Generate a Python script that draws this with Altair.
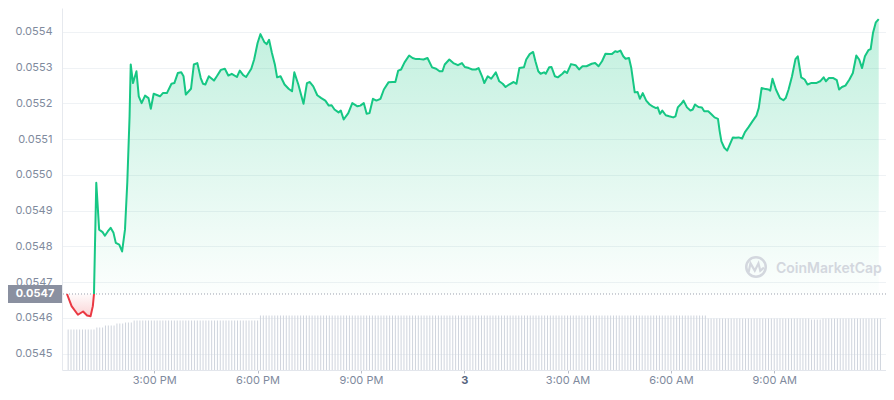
import altair as alt
import pandas as pd
import numpy as np

# time in minutes after 12:00 PM (day 2); price in USD
minutes = [
    28, 36, 47, 56, 63, 69, 73, 75, 79, 84,
    90, 94, 99, 104, 109, 113, 119, 124, 129, 133,
    137, 139, 143, 149, 153, 158, 164, 170, 174, 179,
    190, 195, 202, 210, 215, 221, 227, 231, 235, 244,
    249, 255, 261, 265, 269, 275, 284, 289, 296, 303,
    309, 315, 324, 329, 335, 340, 349, 354, 360, 365,
    372, 376, 380, 385, 390, 394, 400, 407, 414, 420,
    424, 431, 440, 446, 451, 457, 464, 471, 478, 484,
    489, 494, 501, 505, 510, 518, 525, 534, 539, 545,
    550, 555, 561, 567, 574, 580, 588, 595, 600, 605,
    610, 616, 624, 630, 636, 643, 649, 656, 664, 671,
    677, 682, 686, 694, 701, 709, 716, 721, 728, 734,
    740, 745, 751, 755, 761, 767, 775, 781, 787, 792,
    798, 806, 811, 816, 824, 828, 834, 840, 844, 849,
    853, 859, 862, 868, 872, 878, 883, 891, 895, 899,
    906, 914, 920, 926, 933, 942, 948, 954, 960, 966,
    973, 977, 983, 987, 992, 997, 1001, 1007, 1011, 1017,
    1022, 1026, 1031, 1037, 1043, 1048, 1054, 1057, 1061, 1065,
    1071, 1077, 1084, 1088, 1092, 1098, 1102, 1108, 1114, 1118,
    1122, 1128, 1134, 1138, 1145, 1151, 1156, 1162, 1165, 1168,
    1173, 1178, 1182, 1188, 1193, 1198, 1204, 1209, 1215, 1222,
    1229, 1233, 1238, 1243, 1250, 1253, 1257, 1263, 1270, 1276,
    1280, 1285, 1291, 1297, 1301, 1307, 1313, 1318, 1324, 1333,
    1340, 1346, 1350, 1355, 1363, 1369, 1373, 1378, 1384, 1391,
    1397, 1403, 1408, 1413, 1418, 1424, 1428, 1432, 1437, 1442,
]

prices = [
    0.054667, 0.054633, 0.054609, 0.054618, 0.054607, 0.054605, 0.054633, 0.054667, 0.054978, 0.054847,
    0.054840, 0.054830, 0.054842, 0.054852, 0.054838, 0.054810, 0.054805, 0.054786, 0.054847, 0.054978,
    0.055164, 0.055309, 0.055257, 0.055290, 0.055220, 0.055201, 0.055222, 0.055215, 0.055185, 0.055227,
    0.055220, 0.055229, 0.055229, 0.055255, 0.055257, 0.055285, 0.055287, 0.055276, 0.055225, 0.055241,
    0.055309, 0.055313, 0.055271, 0.055255, 0.055253, 0.055276, 0.055264, 0.055276, 0.055294, 0.055297,
    0.055278, 0.055283, 0.055274, 0.055292, 0.055279, 0.055274, 0.055297, 0.055323, 0.055369, 0.055394,
    0.055371, 0.055366, 0.055378, 0.055341, 0.055310, 0.055273, 0.055276, 0.055253, 0.055241, 0.055234,
    0.055287, 0.055253, 0.055199, 0.055257, 0.055260, 0.055248, 0.055223, 0.055215, 0.055208, 0.055194,
    0.055195, 0.055183, 0.055175, 0.055180, 0.055155, 0.055173, 0.055201, 0.055192, 0.055194, 0.055201,
    0.055171, 0.055173, 0.055213, 0.055208, 0.055213, 0.055239, 0.055259, 0.055260, 0.055260, 0.055292,
    0.055295, 0.055315, 0.055334, 0.055327, 0.055324, 0.055324, 0.055323, 0.055327, 0.055301, 0.055297,
    0.055290, 0.055290, 0.055309, 0.055323, 0.055313, 0.055307, 0.055313, 0.055302, 0.055299, 0.055295,
    0.055295, 0.055299, 0.055276, 0.055257, 0.055276, 0.055269, 0.055287, 0.055262, 0.055255, 0.055246,
    0.055253, 0.055260, 0.055255, 0.055299, 0.055301, 0.055323, 0.055338, 0.055344, 0.055318, 0.055290,
    0.055283, 0.055287, 0.055283, 0.055301, 0.055302, 0.055276, 0.055273, 0.055283, 0.055290, 0.055285,
    0.055310, 0.055307, 0.055295, 0.055304, 0.055304, 0.055311, 0.055313, 0.055304, 0.055318, 0.055339,
    0.055338, 0.055338, 0.055346, 0.055344, 0.055348, 0.055332, 0.055325, 0.055327, 0.055299, 0.055231,
    0.055232, 0.055213, 0.055229, 0.055208, 0.055197, 0.055192, 0.055187, 0.055189, 0.055171, 0.055180,
    0.055167, 0.055164, 0.055161, 0.055164, 0.055189, 0.055199, 0.055208, 0.055189, 0.055180, 0.055183,
    0.055197, 0.055190, 0.055189, 0.055178, 0.055178, 0.055169, 0.055161, 0.055157, 0.055122, 0.055094,
    0.055076, 0.055068, 0.055083, 0.055105, 0.055104, 0.055105, 0.055102, 0.055120, 0.055133, 0.055150,
    0.055166, 0.055187, 0.055243, 0.055241, 0.055239, 0.055236, 0.055269, 0.055239, 0.055215, 0.055209,
    0.055215, 0.055239, 0.055276, 0.055324, 0.055332, 0.055273, 0.055267, 0.055253, 0.055257, 0.055257,
    0.055262, 0.055273, 0.055262, 0.055271, 0.055271, 0.055265, 0.055239, 0.055246, 0.055250, 0.055267,
    0.055285, 0.055334, 0.055323, 0.055299, 0.055332, 0.055349, 0.055352, 0.055397, 0.055427, 0.055436,
]

base_price = 0.054667          # opening price (dotted reference line)
cross_index = 7                # first point back at the opening price

# volume bars, one every 5 minutes (relative units)
vol_minutes = list(range(30, 1450, 5))
volume = [
    41, 41, 41, 41, 41, 41, 41, 41, 41, 41, 43, 43, 43, 45, 45, 45, 45, 47, 47, 47,
    48, 48, 48, 50, 50, 50, 50, 50, 50, 50, 50, 50, 50, 50, 50, 50, 50, 50, 50, 50,
    50, 50, 50, 50, 50, 50, 50, 50, 50, 50, 50, 50, 50, 50, 50, 50, 50, 50, 50, 50,
    50, 50, 50, 50, 50, 50, 50, 55, 55, 55, 55, 55, 55, 55, 55, 55, 55, 55, 55, 55,
    55, 55, 55, 55, 55, 55, 55, 55, 55, 55, 55, 55, 55, 55, 55, 55, 55, 55, 55, 55,
    55, 55, 55, 55, 55, 55, 55, 55, 55, 55, 55, 55, 55, 55, 55, 55, 55, 55, 55, 55,
    55, 55, 55, 55, 55, 55, 55, 55, 55, 55, 55, 55, 55, 55, 55, 55, 55, 55, 55, 55,
    55, 55, 55, 55, 55, 55, 55, 55, 55, 55, 55, 55, 55, 55, 55, 55, 55, 55, 55, 55,
    55, 55, 55, 55, 55, 55, 55, 55, 55, 55, 55, 55, 55, 55, 55, 55, 55, 55, 55, 55,
    55, 55, 55, 55, 55, 55, 55, 55, 55, 55, 55, 55, 55, 55, 55, 55, 55, 55, 55, 55,
    55, 55, 55, 55, 55, 55, 55, 55, 55, 55, 55, 55, 55, 55, 55, 55, 55, 55, 55, 55,
    55, 55, 55, 52, 52, 52, 52, 52, 52, 52, 52, 52, 52, 52, 52, 52, 52, 52, 52, 52,
    52, 52, 52, 52, 52, 52, 52, 52, 52, 52, 52, 52, 52, 52, 52, 52, 52, 52, 52, 51,
    51, 51, 51, 52, 52, 52, 52, 52, 52, 52, 52, 52, 52, 52, 52, 52, 52, 52, 52, 52,
    52, 52, 52, 52,
]

y_ticks = [0.0545, 0.0546, 0.0547, 0.0548, 0.0549, 0.0550, 0.0551, 0.0552, 0.0553, 0.0554]
x_tick_minutes = [180, 360, 540, 720, 900, 1080, 1260]
x_tick_labels = ["3:00 PM", "6:00 PM", "9:00 PM", "3", "3:00 AM", "6:00 AM", "9:00 AM"]
day_tick = 720

assert len(minutes) == len(prices)
assert len(vol_minutes) == len(volume)

df = pd.DataFrame({"m": minutes, "price": prices})
df["base"] = base_price
df["hi"] = np.maximum(df["price"], base_price)
df["lo"] = np.minimum(df["price"], base_price)
red_df = df.iloc[: cross_index + 1]
green_df = df.iloc[cross_index:]
vol_df = pd.DataFrame({"m": vol_minutes, "vol": volume})
base_df = pd.DataFrame({"base": [base_price], "label": [f"{base_price:.4f}"]})
wm_df = pd.DataFrame({"t": ["CoinMarketCap"]})

GREEN = "#16c784"
RED = "#ea3943"
GREY = "#808a9d"
WM = "#d3d7de"
PLOT_W = 824
PLOT_H = 362

label_expr = " : ".join(
    f"datum.value == {m} ? '{lab}'" for m, lab in zip(x_tick_minutes, x_tick_labels)
) + " : ''"

x_axis = alt.Axis(
    values=x_tick_minutes, labelExpr=label_expr, title=None, grid=False,
    domainColor="#e3e6ec", tickColor="#b8bdc8", tickSize=3, labelPadding=1,
    labelFontSize=11, labelFont="Inter",
    labelColor={"condition": {"test": f"datum.value == {day_tick}", "value": "#58667e"}, "value": GREY},
    labelFontWeight={"condition": {"test": f"datum.value == {day_tick}", "value": "bold"}, "value": "normal"},
)
y_axis = alt.Axis(
    values=y_ticks, format=".4f", title=None, grid=True, gridColor="#eff2f5",
    domainColor="#e6e9ee", ticks=False, labelColor=GREY, labelFontSize=11,
    labelPadding=10, labelFont="Inter",
)

x_scale = alt.Scale(domain=[28, 1446], nice=False, zero=False)
y_scale = alt.Scale(domain=[0.0544544, 0.055467], nice=False, zero=False)

X = alt.X("m:Q", scale=x_scale, axis=x_axis)


def Yp(field):
    return alt.Y(f"{field}:Q", scale=y_scale, axis=y_axis)


vol_chart = alt.Chart(vol_df).mark_bar(width=1, color="#cfd4dd").encode(
    x=X, y=alt.Y("vol:Q", scale=alt.Scale(domain=[0, 366]), axis=None)
)

green_area = alt.Chart(df).mark_area(
    color=alt.Gradient(
        gradient="linear",
        stops=[alt.GradientStop(color="rgba(22,199,132,0.27)", offset=0),
               alt.GradientStop(color="rgba(22,199,132,0.01)", offset=1)],
        x1=1, x2=1, y1=0, y2=1,
    )
).encode(x=X, y=Yp("hi"), y2=alt.Y2("base:Q"))

red_area = alt.Chart(red_df).mark_area(
    color=alt.Gradient(
        gradient="linear",
        stops=[alt.GradientStop(color="rgba(234,57,67,0.02)", offset=0),
               alt.GradientStop(color="rgba(234,57,67,0.22)", offset=1)],
        x1=1, x2=1, y1=0, y2=1,
    )
).encode(x=X, y=Yp("lo"), y2=alt.Y2("base:Q"))

base_rule = alt.Chart(base_df).mark_rule(color="#9aa0ae", strokeDash=[1, 2], strokeWidth=1).encode(
    y=Yp("base")
)

green_line = alt.Chart(green_df).mark_line(color=GREEN, strokeWidth=2, strokeJoin="round").encode(
    x=X, y=Yp("price")
)
red_line = alt.Chart(red_df).mark_line(color=RED, strokeWidth=2, strokeJoin="round").encode(
    x=X, y=Yp("price")
)

box = alt.Chart(base_df).mark_rect(color="#8a90a0", yOffset=-9, y2Offset=9).encode(
    x=alt.value(-54), x2=alt.value(0), y=Yp("base"), y2=alt.Y2("base:Q")
)
box_text = alt.Chart(base_df).mark_text(
    color="white", fontWeight="bold", fontSize=11, font="Inter", align="center", baseline="middle"
).encode(x=alt.value(-27), y=Yp("base"), text="label:N")

wm_text = alt.Chart(wm_df).mark_text(
    color=WM, fontSize=14, fontWeight=600, font="Inter", align="left", baseline="middle"
).encode(x=alt.value(714), y=alt.value(261), text="t:N")
wm_circle = alt.Chart(wm_df).mark_point(
    shape="circle", size=380, filled=False, strokeWidth=2.5, color=WM, opacity=1
).encode(x=alt.value(694), y=alt.value(259))
wm_wave = alt.Chart(wm_df).mark_point(
    shape="M-0.6,0.4 L-0.45,-0.3 L-0.1,0.3 L0.2,-0.3 L0.35,0.3 L0.65,0.05",
    size=600, filled=False, strokeWidth=2.2, color=WM, opacity=1,
).encode(x=alt.value(694), y=alt.value(259))

price_layers = alt.layer(
    green_area, red_area, wm_circle, wm_wave, wm_text, base_rule, green_line, red_line, box, box_text
)

chart = (
    alt.layer(vol_chart, price_layers)
    .resolve_scale(y="independent")
    .properties(
        width=PLOT_W,
        height=PLOT_H,
        padding={"left": 54, "top": 0, "right": 0, "bottom": 16},
        autosize=alt.AutoSizeParams(type="none"),
    )
    .configure(background="white", font="Inter")
    .configure_view(strokeWidth=0, stroke="transparent")
)

chart.save("out.html", embed_options={"renderer": "svg", "actions": False})
